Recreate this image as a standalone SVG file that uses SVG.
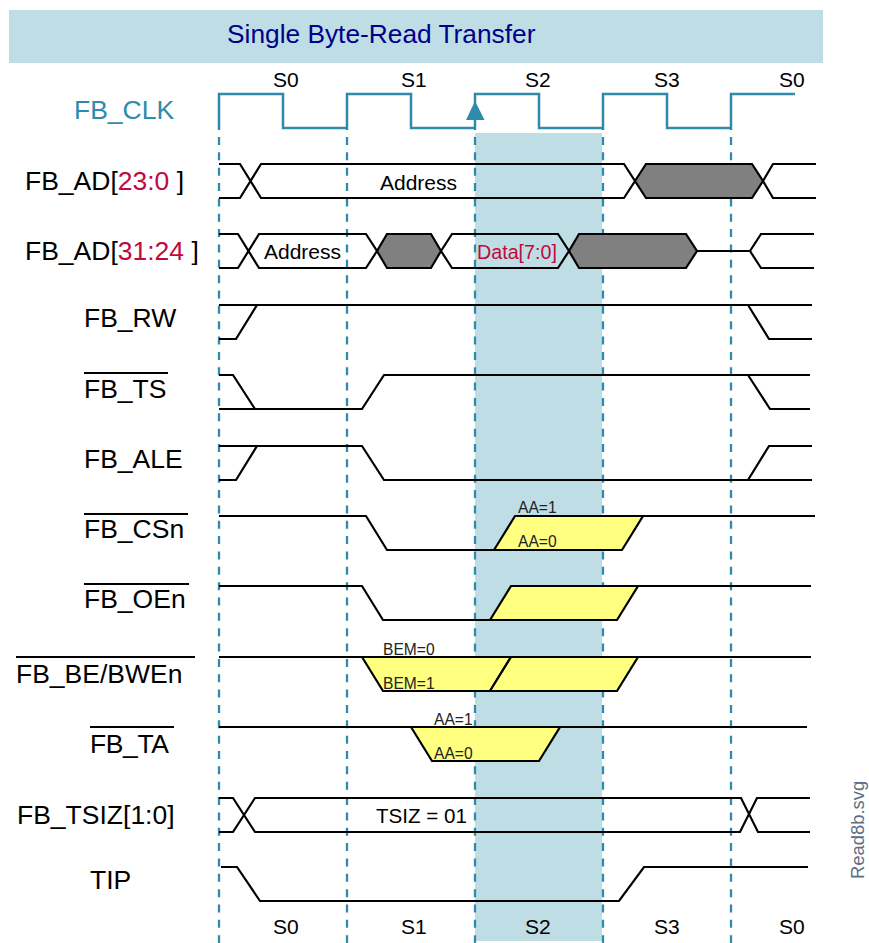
<svg xmlns="http://www.w3.org/2000/svg" width="869" height="943" viewBox="0 0 869 943">
<style>
text{font-family:"Liberation Sans",Arial,sans-serif;fill:#000}
.sig{font-size:26.500px}
.st{font-size:21px}
.sm{font-size:15.600px;fill:#222}
.w{fill:none;stroke:#000;stroke-width:2.200;stroke-linejoin:miter}
.g{fill:#808080;stroke:#000;stroke-width:2.200}
.y{fill:#ffff80;stroke:#000;stroke-width:2.200}
.d{fill:none;stroke:#2e8bab;stroke-width:2.300;stroke-dasharray:8 7.350}
.o{stroke:#000;stroke-width:2;fill:none}
.r{fill:#c00a3c}
</style>
<rect id="header" x="9" y="10" width="814" height="53" fill="#bfdde5"/>
<text id="title" x="227" y="43" font-size="26.300" style="fill:#00008b">Single Byte-Read Transfer</text>
<rect id="band" x="475" y="133" width="127" height="808" fill="#bfdde5"/>
<g id="connectors">
<path class="d" d="M219 137V943M347 137V943M475 137V943M603 137V943M731 137V943"/>
<path fill="none" stroke="#2e8bab" stroke-width="2.500" d="M219 130V94H283V128H347M347 130V94H411V128H475M475 130V94H539V128H603M603 130V94H667V128H731M731 130V94H795"/>
<path fill="#2e8bab" d="M475 101L484.500 120H466Z"/>
</g>
<g id="fb_clk"><text class="sig" x="74" y="119" style="fill:#2e8bab">FB_CLK</text></g>
<g id="fb_ad23">
<text class="sig" x="25" y="190">FB_AD[<tspan class="r">23:0</tspan> ]</text>
<path class="w" d="M219 164H240L261 198H624L635 181L624 164H261L240 198H219"/>
<path class="g" d="M635 181L646 164H752L763 181L752 198H646Z"/>
<path class="w" d="M763 181L773 164H816M763 181L773 198H816"/>
<text class="st" x="380" y="190">Address</text>
</g>
<g id="fb_ad31">
<text class="sig" x="25" y="260">FB_AD[<tspan class="r">31:24</tspan> ]</text>
<path class="w" d="M219 234H238L259 268H366L377 251L366 234H259L238 268H219"/>
<path class="g" d="M377 251L387 234H431L441 251L431 268H387Z"/>
<path class="w" d="M441 251L452 234H558L569 251L558 268H452Z"/>
<path class="g" d="M569 251L579 234H686L697 251L686 268H579Z"/>
<path class="w" d="M697 251H750L761 234H814M750 251L761 268H814"/>
<text class="st" x="264" y="259">Address</text>
<text x="477" y="259" font-size="19.700" style="fill:#c00a3c">Data[7:0]</text>
</g>
<g id="fb_rw">
<text class="sig" x="84" y="327">FB_RW</text>
<path class="w" d="M219 339H236L257 305M219 305H812M748 305L769 339H812"/>
</g>
<g id="fb_ts">
<text class="sig" x="84" y="398">FB_TS</text><path class="o" d="M84 373H168"/>
<path class="w" d="M219 375H233L255 409H362L384 375H810M219 409H255M748 375L770 409H810"/>
</g>
<g id="fb_ale">
<text class="sig" x="84" y="468">FB_ALE</text>
<path class="w" d="M219 480H236L257 446M219 446H362L384 480H748L769 446H812"/>
<path class="w" d="M748 480H812"/>
</g>
<g id="fb_csn">
<text class="sig" x="84" y="538">FB_CSn</text><path class="o" d="M84 514H188"/>
<path class="y" d="M494 550L515 516H643L622 550Z"/>
<path class="w" d="M219 516H366L387 550H494M643 516H815"/>
<text class="sm" x="518" y="513">AA=1</text><text class="sm" x="518" y="547">AA=0</text>
</g>
<g id="fb_oen">
<text class="sig" x="84" y="608">FB_OEn</text><path class="o" d="M84 584H189"/>
<path class="y" d="M490 620L511 586H638L617 620Z"/>
<path class="w" d="M219 586H362L383 620H490M638 586H811"/>
</g>
<g id="fb_be">
<text class="sig" x="16" y="683">FB_BE/BWEn</text><path class="o" d="M16 657H195"/>
<path class="y" d="M362 657L383 691H490L511 657Z"/>
<path class="y" d="M490 691L511 657H638L617 691Z"/>
<path class="w" d="M219 657H811"/>
<text class="sm" x="383" y="655">BEM=0</text><text class="sm" x="383" y="689">BEM=1</text>
</g>
<g id="fb_ta">
<text class="sig" x="90" y="753" textLength="79">FB_TA</text><path class="o" d="M90 727H174"/>
<path class="y" d="M411 727L432 761H539L560 727Z"/>
<path class="w" d="M219 727H807"/>
<text class="sm" x="434" y="725">AA=1</text><text class="sm" x="434" y="759">AA=0</text>
</g>
<g id="fb_tsiz">
<text class="sig" x="17" y="824">FB_TSIZ[1:0]</text>
<path class="w" d="M219 798H233L255 832H740L757 798H810M219 832H233L255 798H741L758 832H810"/>
<text x="376" y="823" font-size="20.600">TSIZ = 01</text>
</g>
<g id="tip">
<text class="sig" x="90" y="889">TIP</text>
<path class="w" d="M221 867H237L260 901H619L644 867H808"/>
</g>
<g id="states">
<text class="st" x="273" y="87">S0</text><text class="st" x="401" y="87">S1</text><text class="st" x="525" y="87">S2</text><text class="st" x="654" y="87">S3</text><text class="st" x="779" y="87">S0</text>
<text class="st" x="273" y="934">S0</text><text class="st" x="401" y="934">S1</text><text class="st" x="525" y="934">S2</text><text class="st" x="654" y="934">S3</text><text class="st" x="779" y="934">S0</text>
</g>
<text id="filename" transform="translate(864 879) rotate(-90)" font-size="18.400" style="fill:#5a6e85">Read8b.svg</text>
</svg>
